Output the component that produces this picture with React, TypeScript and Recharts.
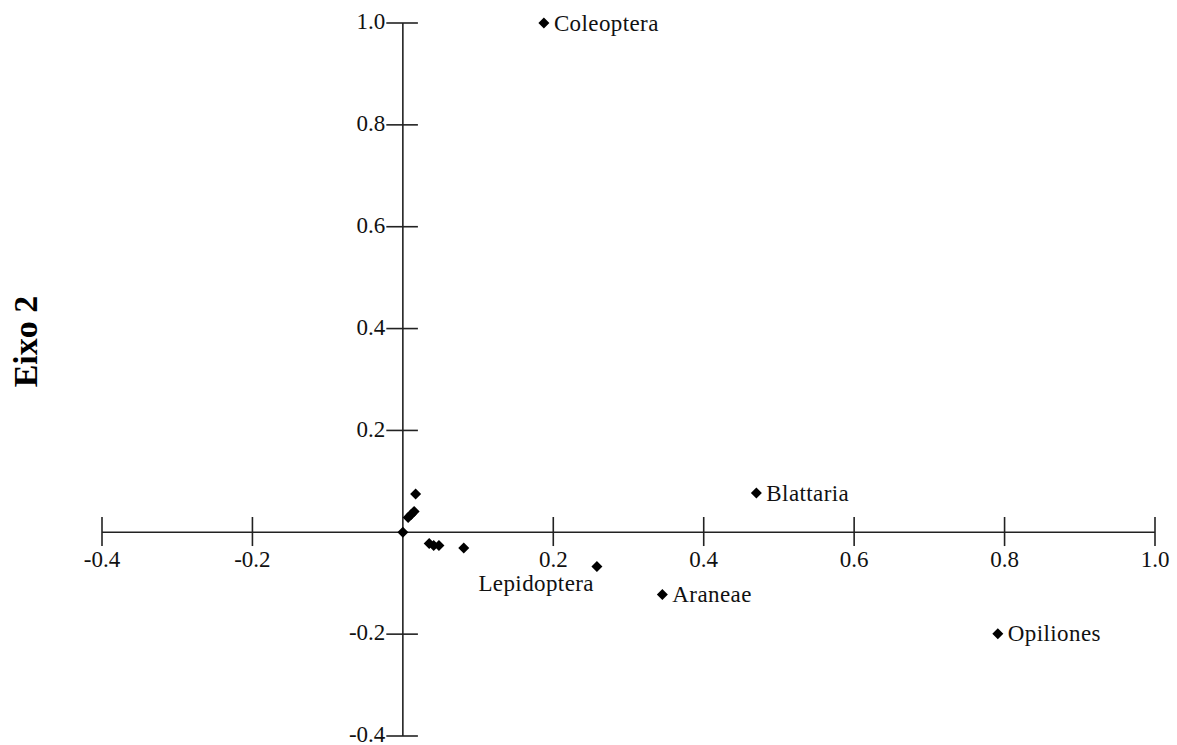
import { ScatterChart, Scatter, XAxis, YAxis, ReferenceLine } from 'recharts';

// labelled taxa (axis 1, axis 2)
const taxa = ['Coleoptera', 'Blattaria', 'Araneae', 'Lepidoptera', 'Opiliones'];
const taxaX = [0.1875, 0.47, 0.345, 0.258, 0.791];
const taxaY = [1.0, 0.077, -0.122, -0.067, -0.199];

// unlabelled points near the origin
const clusterX = [0.0, 0.017, 0.007, 0.011, 0.015, 0.035, 0.041, 0.048, 0.081];
const clusterY = [0.0, 0.075, 0.029, 0.035, 0.041, -0.022, -0.026, -0.026, -0.031];

const xTicks = [-0.4, -0.2, 0.2, 0.4, 0.6, 0.8, 1.0];
const yTicks = [-0.4, -0.2, 0.2, 0.4, 0.6, 0.8, 1.0];

const labelled = taxa.map((name, i) => ({ name, x: taxaX[i], y: taxaY[i] }));
const cluster = clusterX.map((x, i) => ({ x, y: clusterY[i] }));

const font = '"Liberation Serif", "Times New Roman", serif';
const ink = '#222';

const Diamond = (props: any) => {
  const { cx, cy, payload } = props;
  const r = 5.5;
  const below = payload?.name === 'Lepidoptera';
  return (
    <g>
      <path d={`M${cx},${cy - r}L${cx + r},${cy}L${cx},${cy + r}L${cx - r},${cy}Z`} fill="#000" />
      {payload?.name && (
        <text
          x={below ? cx - 3 : cx + 10}
          y={below ? cy + 17 : cy}
          textAnchor={below ? 'end' : 'start'}
          dominantBaseline="central"
          fontFamily={font}
          fontSize={23}
          letterSpacing={0.4}
          fill="#111"
        >
          {payload.name}
        </text>
      )}
    </g>
  );
};

const AxisTitle = (props: any) => {
  const { viewBox } = props;
  const x = viewBox.x + 25;
  const y = viewBox.y + viewBox.height / 2 - 38;
  return (
    <text
      x={x}
      y={y}
      transform={`rotate(-90, ${x}, ${y})`}
      textAnchor="middle"
      dominantBaseline="central"
      fontFamily={font}
      fontWeight="bold"
      fontSize={34}
      fill="#000"
    >
      Eixo 2
    </text>
  );
};

const tickLabel = { fontFamily: font, fontSize: 23, fill: '#111' };

export default function App() {
  return (
    <div style={{ position: 'absolute', left: 0, top: 0, background: '#fff' }}>
      <ScatterChart width={1177} height={745} margin={{ top: 23, right: 22, bottom: 9, left: 0 }}>
        <XAxis type="number" dataKey="x" domain={[-0.4, 1.0]} hide />
        <YAxis
          type="number"
          dataKey="y"
          domain={[-0.4, 1.0]}
          width={102}
          axisLine={false}
          tick={false}
          tickLine={false}
          label={<AxisTitle />}
        />
        <ReferenceLine x={0} stroke={ink} strokeWidth={1.6} ifOverflow="visible" />
        <ReferenceLine y={0} stroke={ink} strokeWidth={1.6} ifOverflow="visible" />
        {xTicks.map((t) => (
          <ReferenceLine
            key={'x' + t}
            segment={[{ x: t, y: 0.03 }, { x: t, y: -0.027 }]}
            stroke={ink}
            strokeWidth={1.6}
            ifOverflow="visible"
            label={{ value: t.toFixed(1), position: 'bottom', offset: 5, ...tickLabel }}
          />
        ))}
        {yTicks.map((t) => (
          <ReferenceLine
            key={'y' + t}
            segment={[{ x: -0.022, y: t }, { x: 0.02, y: t }]}
            stroke={ink}
            strokeWidth={1.6}
            ifOverflow="visible"
            label={{ value: t.toFixed(1), position: 'left', offset: 1, dy: -2, ...tickLabel }}
          />
        ))}
        <Scatter data={cluster} shape={<Diamond />} isAnimationActive={false} />
        <Scatter data={labelled} shape={<Diamond />} isAnimationActive={false} />
      </ScatterChart>
    </div>
  );
}
